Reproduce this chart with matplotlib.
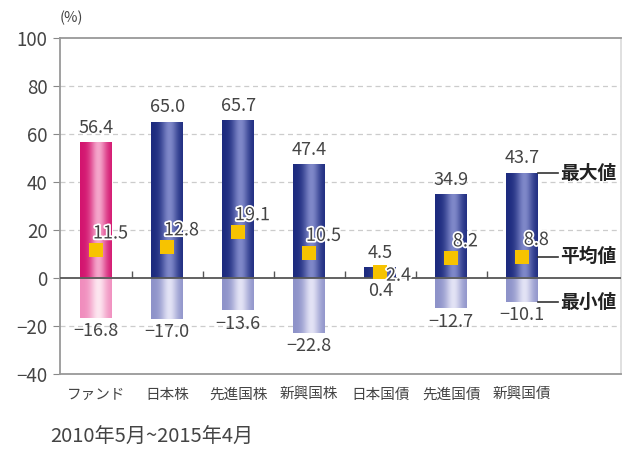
import numpy as np
import matplotlib.pyplot as plt
import matplotlib.patheffects as pe
from matplotlib.colors import to_rgb

plt.rcParams['font.family'] = ['Noto Sans CJK JP', 'DejaVu Sans']

# data
categories = ['ファンド', '日本株', '先進国株', '新興国株', '日本国債', '先進国債', '新興国債']
max_vals = [56.4, 65.0, 65.7, 47.4, 4.5, 34.9, 43.7]
mean_vals = [11.5, 12.8, 19.1, 10.5, 2.4, 8.2, 8.8]
min_vals = [-16.8, -17.0, -13.6, -22.8, 0.4, -12.7, -10.1]
yticks = [-40, -20, 0, 20, 40, 60, 80, 100]
period = '2010年5月~2015年4月'

# colours: (edge, centre) for a cylinder-like gradient
top_blue = ('#1c2a7e', '#7f88c9')
low_blue = ('#8d92c9', '#e3e3f5')
top_pink = ('#d3136e', '#f5a6cb')
low_pink = ('#f08cbd', '#fde6f0')


def gradient(edge, centre):
    t = np.linspace(0, 1, 64)
    w = np.exp(-((t - 0.58) / 0.26) ** 2)
    e, c = np.array(to_rgb(edge)), np.array(to_rgb(centre))
    img = e[None, :] * (1 - w[:, None]) + c[None, :] * w[:, None]
    return img[None, :, :]


fig = plt.figure(figsize=(6.26, 4.57), dpi=100)
ax = fig.add_axes([0.096, 0.182, 0.896, 0.735])

x = np.arange(len(categories))
width = 0.45

top_h = [m if m > 0 else 0 for m in max_vals]
low_h = [m if m < 0 else 0 for m in min_vals]
bars_top = ax.bar(x, top_h, width, color='none', zorder=2)
bars_low = ax.bar(x, low_h, width, color='none', zorder=2)

for i, (bt, bl) in enumerate(zip(bars_top, bars_low)):
    tc, lc = (top_pink, low_pink) if i == 0 else (top_blue, low_blue)
    x0, w = bt.get_x(), bt.get_width()
    ax.imshow(gradient(*tc), extent=[x0, x0 + w, bt.get_y(), bt.get_y() + bt.get_height()],
              aspect='auto', zorder=2, interpolation='bilinear')
    if bl.get_height() != 0:
        ax.imshow(gradient(*lc), extent=[x0, x0 + w, bl.get_y() + bl.get_height(), bl.get_y()],
                  aspect='auto', zorder=2, interpolation='bilinear')

# mean markers
ax.scatter(x, mean_vals, marker='s', s=110, color='#f7c300', zorder=4, linewidths=0)

lab_kw = dict(fontsize=13, color='#444444', zorder=5)
halo = [pe.withStroke(linewidth=2.5, foreground='white')]
for i in range(len(categories)):
    ax.text(x[i], max_vals[i] + 2.3, f'{max_vals[i]:.1f}', ha='center', va='bottom', **lab_kw)
    ax.text(x[i], min(min_vals[i], 0) - 1.8, f'{min_vals[i]:.1f}'.replace('-', '−'),
            ha='center', va='top', **lab_kw)
    if categories[i] == '日本国債':
        ax.text(x[i] + 0.08, mean_vals[i] - 1.5, f'{mean_vals[i]:.1f}', ha='left', va='center',
                path_effects=halo, **lab_kw)
    else:
        ax.text(x[i] + 0.2, mean_vals[i] + 7, f'{mean_vals[i]:.1f}', ha='center', va='center',
                path_effects=halo, **lab_kw)

# legend labels on the right of the last bar
last = len(categories) - 1
for val, txt in [(max_vals[last], '最大値'), (mean_vals[last], '平均値'), (min_vals[last], '最小値')]:
    ax.plot([x[last] + width / 2, x[last] + 0.5], [val, val], color='#333333', lw=1.2, zorder=3)
    ax.text(x[last] + 0.53, val, txt, ha='left', va='center', fontsize=13.5,
            fontweight='bold', color='#222222')

# grid and zero line
for v in [20, 40, 60, 80, -20]:
    ax.axhline(v, color='#cccccc', lw=0.9, ls=(0, (4, 3)), zorder=1)
ax.axhline(0, color='#555555', lw=1.3, zorder=3)
ax.vlines(x[:-1] + 0.5, 0, 3, color='#555555', lw=1.0, zorder=3)

ax.set_xlim(-0.51, 7.39)
ax.set_ylim(-40, 100)
ax.set_yticks(yticks)
ax.set_yticklabels([str(v).replace('-', '−') for v in yticks], fontsize=13.5, color='#444444')
ax.tick_params(axis='y', length=5, color='#888888', pad=4)
ax.set_xticks(x)
ax.set_xticklabels(categories, fontsize=10.5, color='#444444')
ax.tick_params(axis='x', length=0, pad=10)
for s in ax.spines.values():
    s.set_color('#999999')
    s.set_linewidth(1.3)
ax.spines['right'].set_color('#dddddd')

fig.text(0.096, 0.96, '(%)', fontsize=10.5, color='#444444', va='center')
fig.text(0.08, 0.043, period, fontsize=14.5, color='#444444', va='center')

fig.savefig('out.png', dpi=100)
